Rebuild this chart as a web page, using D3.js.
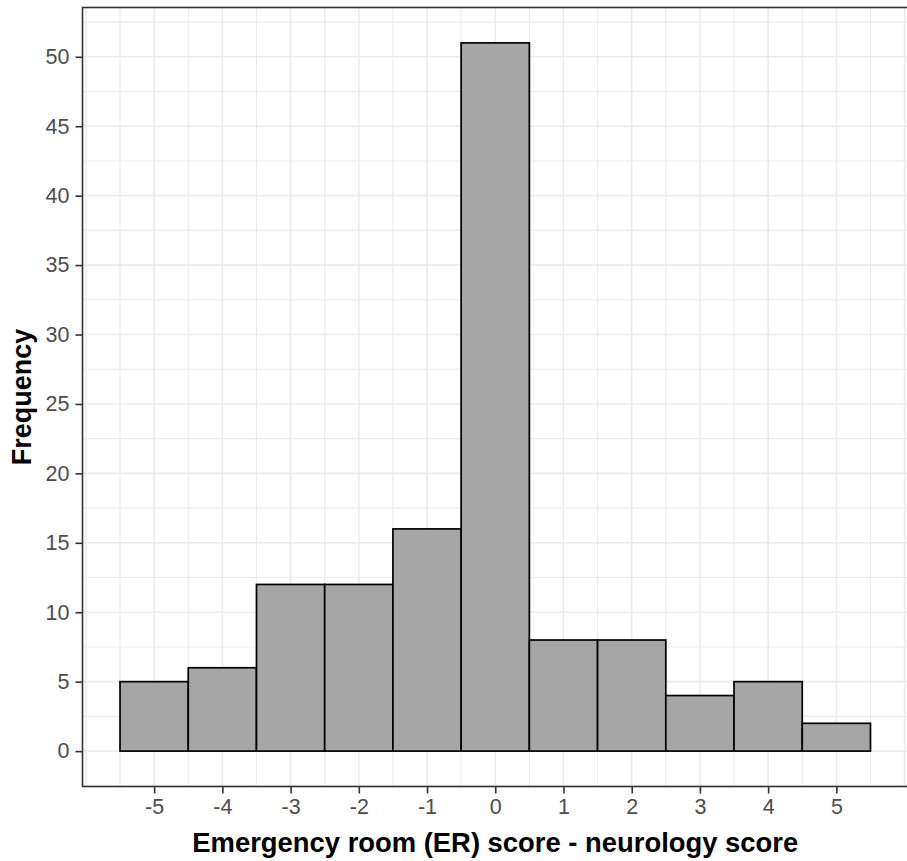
<!DOCTYPE html>
<html>
<head>
<meta charset="utf-8">
<script src="https://cdn.jsdelivr.net/npm/d3@7"></script>
<style>
  body { margin: 0; background: #fff; }
  svg { display: block; font-family: "Liberation Sans", Arial, sans-serif; }
</style>
</head>
<body>
<svg width="907" height="861" viewBox="0 0 907 861"></svg>
<script>
// histogram bins (centre of each bin) and their counts
const binCentres = [-5, -4, -3, -2, -1, 0, 1, 2, 3, 4, 5];
const counts = [5, 6, 12, 12, 16, 51, 8, 8, 4, 5, 2];
const yTicks = [0, 5, 10, 15, 20, 25, 30, 35, 40, 45, 50];
const xTicks = [-5, -4, -3, -2, -1, 0, 1, 2, 3, 4, 5];

const svg = d3.select("svg");
const panel = { left: 82.5, right: 908, top: 7.5, bottom: 786.5 };

// ggplot style 5% expansion on both axes
const xMin = d3.min(binCentres) - 0.5, xMax = d3.max(binCentres) + 0.5;
const xPad = (xMax - xMin) * 0.05;
const x = d3.scaleLinear()
    .domain([xMin - xPad, xMax + xPad])
    .range([panel.left, panel.right]);

const yMax = d3.max(counts);
const yPad = yMax * 0.05;
const y = d3.scaleLinear()
    .domain([-yPad, yMax + yPad])
    .range([panel.bottom, panel.top]);

// Grid lines (major + minor at half steps)
const grid = svg.append("g").attr("stroke", "#ebebeb");
const xGrid = d3.range(-6, 6.01, 0.5);
grid.selectAll("line.v").data(xGrid).enter().append("line")
    .attr("x1", d => x(d)).attr("x2", d => x(d))
    .attr("y1", panel.top).attr("y2", panel.bottom)
    .attr("stroke-width", d => Number.isInteger(d) ? 1.6 : 1.1);
const yGrid = d3.range(-2.5, 53, 2.5);
grid.selectAll("line.h").data(yGrid).enter().append("line")
    .attr("y1", d => y(d)).attr("y2", d => y(d))
    .attr("x1", panel.left).attr("x2", panel.right)
    .attr("stroke-width", d => d % 5 === 0 ? 1.6 : 1.1);

// Bars
svg.append("g").selectAll("rect")
    .data(binCentres.map((c, i) => ({ c, n: counts[i] })))
    .enter().append("rect")
    .attr("x", d => x(d.c - 0.5))
    .attr("width", d => x(d.c + 0.5) - x(d.c - 0.5))
    .attr("y", d => y(d.n))
    .attr("height", d => y(0) - y(d.n))
    .attr("fill", "#a6a6a6")
    .attr("stroke", "#000")
    .attr("stroke-width", 1.7);

// Panel border
svg.append("rect")
    .attr("x", panel.left).attr("y", panel.top)
    .attr("width", panel.right - panel.left).attr("height", panel.bottom - panel.top)
    .attr("fill", "none").attr("stroke", "#333").attr("stroke-width", 1.6);

// Axes
const xAxis = svg.append("g")
    .attr("transform", `translate(0,${panel.bottom})`)
    .call(d3.axisBottom(x).tickValues(xTicks).tickSize(7).tickPadding(5).tickFormat(d3.format("d")));
const yAxis = svg.append("g")
    .attr("transform", `translate(${panel.left},0)`)
    .call(d3.axisLeft(y).tickValues(yTicks).tickSize(7).tickPadding(6).tickFormat(d3.format("d")));

[xAxis, yAxis].forEach(a => {
    a.select(".domain").remove();
    a.selectAll(".tick line").attr("stroke", "#333").attr("stroke-width", 1.6);
    a.selectAll(".tick text")
        .attr("fill", "#4d4d4d")
        .style("font-size", "21.5px")
        .style("font-family", "'Liberation Sans', Arial, sans-serif");
});
// plain hyphen for negatives, as in the R output
xAxis.selectAll(".tick text").text(d => String(d));

// Axis titles
svg.append("text")
    .attr("x", (panel.left + panel.right) / 2)
    .attr("y", 852)
    .attr("text-anchor", "middle")
    .style("font-size", "27.4px")
    .style("font-weight", "bold")
    .text("Emergency room (ER) score - neurology score");

svg.append("text")
    .attr("transform", `translate(31,${(panel.top + panel.bottom) / 2}) rotate(-90)`)
    .attr("text-anchor", "middle")
    .style("font-size", "27px")
    .style("font-weight", "bold")
    .text("Frequency");
</script>
</body>
</html>
